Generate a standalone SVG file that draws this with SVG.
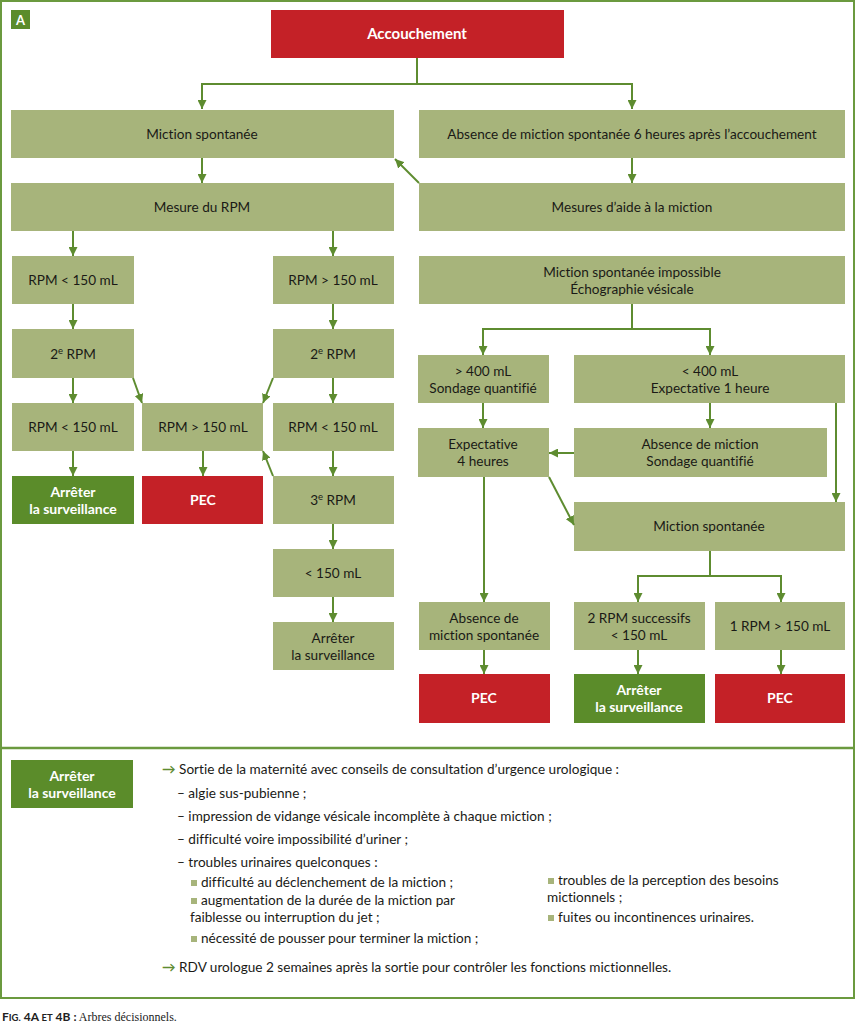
<svg xmlns="http://www.w3.org/2000/svg" width="856" height="1024" viewBox="0 0 856 1024">
<defs>
<marker id="ah" viewBox="0 0 10 10" refX="10" refY="5" markerWidth="9" markerHeight="9" markerUnits="userSpaceOnUse" orient="auto">
<path d="M0,0 L10,5 L0,10 z" fill="#5e8c30"/>
</marker>
</defs>
<style>
text{font-variant-ligatures:none}
.box{fill:#a7b47b}
.red{fill:#c42127}
.grn{fill:#5b8c2a}
.t{font-family:Lato,"Liberation Sans",sans-serif;font-size:13.6px;fill:#1a1a16;text-anchor:middle}
.w{font-family:Lato,"Liberation Sans",sans-serif;font-size:14px;font-weight:bold;fill:#ffffff;text-anchor:middle}
.c{fill:none;stroke:#5e8c30;stroke-width:2}
.l{font-family:Lato,"Liberation Sans",sans-serif;font-size:13.6px;fill:#1a1a16}
.ar{fill:#5e8c30;font-weight:bold}
.sq{fill:#a7b47b}
.sup{font-size:9.5px}
</style>
<rect x="1" y="1" width="853" height="997" fill="#ffffff" stroke="#6b9a3f" stroke-width="2"/>
<line x1="1" y1="748" x2="854" y2="748" stroke="#6b9a3f" stroke-width="2.5"/>

<g id="badgeA"><rect x="11" y="10" width="19" height="19" class="grn"/><text x="20.5" y="24.5" class="w" style="font-size:13px">A</text></g>

<g id="accouchement"><rect x="271" y="10" width="293" height="48" class="red"/><text x="417" y="39" class="w" style="font-size:15px">Accouchement</text></g>

<g id="miction1"><rect x="11" y="110" width="383" height="48" class="box"/><text x="202" y="139" class="t">Miction spontanée</text></g>
<g id="absence6h"><rect x="419" y="110" width="426" height="48" class="box"/><text x="632" y="139" class="t">Absence de miction spontanée 6 heures après l’accouchement</text></g>
<g id="mesureRPM"><rect x="11" y="183" width="383" height="48" class="box"/><text x="202" y="212" class="t">Mesure du RPM</text></g>
<g id="aide"><rect x="419" y="183" width="426" height="48" class="box"/><text x="632" y="212" class="t">Mesures d’aide à la miction</text></g>

<g id="l1"><rect x="12" y="256" width="122" height="48" class="box"/><text x="73" y="285" class="t">RPM &lt; 150 mL</text></g>
<g id="l2"><rect x="12" y="329" width="122" height="49" class="box"/><text x="73" y="359" class="t">2<tspan class="sup" dy="-5">e</tspan><tspan dy="5"> RPM</tspan></text></g>
<g id="l3"><rect x="12" y="403" width="122" height="48" class="box"/><text x="73" y="432" class="t">RPM &lt; 150 mL</text></g>
<g id="l4"><rect x="12" y="476" width="122" height="48" class="grn"/><text x="73" y="497" class="w">Arrêter</text><text x="73" y="514" class="w">la surveillance</text></g>

<g id="m3"><rect x="142" y="403" width="121" height="48" class="box"/><text x="203" y="432" class="t">RPM &gt; 150 mL</text></g>
<g id="m4"><rect x="142" y="476" width="121" height="48" class="red"/><text x="203" y="505" class="w">PEC</text></g>

<g id="r1"><rect x="273" y="256" width="121" height="48" class="box"/><text x="333" y="285" class="t">RPM &gt; 150 mL</text></g>
<g id="r2"><rect x="273" y="329" width="121" height="49" class="box"/><text x="333" y="359" class="t">2<tspan class="sup" dy="-5">e</tspan><tspan dy="5"> RPM</tspan></text></g>
<g id="r3"><rect x="273" y="403" width="121" height="48" class="box"/><text x="333" y="432" class="t">RPM &lt; 150 mL</text></g>
<g id="r4"><rect x="273" y="476" width="121" height="48" class="box"/><text x="333" y="505" class="t">3<tspan class="sup" dy="-5">e</tspan><tspan dy="5"> RPM</tspan></text></g>
<g id="r5"><rect x="273" y="549" width="121" height="48" class="box"/><text x="333" y="578" class="t">&lt; 150 mL</text></g>
<g id="r6"><rect x="273" y="622" width="121" height="48" class="box"/><text x="333" y="643" class="t">Arrêter</text><text x="333" y="660" class="t">la surveillance</text></g>

<g id="echo"><rect x="419" y="256" width="426" height="48" class="box"/><text x="632" y="277" class="t">Miction spontanée impossible</text><text x="632" y="294" class="t">Échographie vésicale</text></g>
<g id="gt400"><rect x="418" y="355" width="131" height="48" class="box"/><text x="483" y="376" class="t">&gt; 400 mL</text><text x="483" y="393" class="t">Sondage quantifié</text></g>
<g id="lt400"><rect x="574" y="355" width="271" height="48" class="box"/><text x="710" y="376" class="t">&lt; 400 mL</text><text x="710" y="393" class="t">Expectative 1 heure</text></g>
<g id="exp4"><rect x="418" y="428" width="131" height="49" class="box"/><text x="483" y="449" class="t">Expectative</text><text x="483" y="466" class="t">4 heures</text></g>
<g id="absSond"><rect x="574" y="428" width="253" height="49" class="box"/><text x="700" y="449" class="t">Absence de miction</text><text x="700" y="466" class="t">Sondage quantifié</text></g>
<g id="miction2"><rect x="574" y="502" width="271" height="49" class="box"/><text x="709" y="531" class="t">Miction spontanée</text></g>
<g id="absSpont"><rect x="419" y="602" width="131" height="48" class="box"/><text x="484" y="623" class="t">Absence de</text><text x="484" y="640" class="t">miction spontanée</text></g>
<g id="rpm2"><rect x="574" y="602" width="131" height="48" class="box"/><text x="639" y="623" class="t">2 RPM successifs</text><text x="639" y="640" class="t">&lt; 150 mL</text></g>
<g id="rpm1"><rect x="715" y="602" width="130" height="48" class="box"/><text x="780" y="631" class="t">1 RPM &gt; 150 mL</text></g>
<g id="pecA"><rect x="419" y="674" width="131" height="49" class="red"/><text x="484" y="703" class="w">PEC</text></g>
<g id="stopB"><rect x="574" y="674" width="131" height="49" class="grn"/><text x="639" y="695" class="w">Arrêter</text><text x="639" y="712" class="w">la surveillance</text></g>
<g id="pecB"><rect x="715" y="674" width="130" height="49" class="red"/><text x="780" y="703" class="w">PEC</text></g>

<g id="connectors">
<path class="c" d="M417,58 V84 H202 V109" marker-end="url(#ah)"/>
<path class="c" d="M417,84 H632 V109" marker-end="url(#ah)"/>
<path class="c" d="M202,158 V183" marker-end="url(#ah)"/>
<path class="c" d="M632,158 V183" marker-end="url(#ah)"/>
<path class="c" d="M419,183 L395,159" marker-end="url(#ah)"/>
<path class="c" d="M73,231 V256" marker-end="url(#ah)"/>
<path class="c" d="M333,231 V256" marker-end="url(#ah)"/>
<path class="c" d="M73,304 V329" marker-end="url(#ah)"/>
<path class="c" d="M73,378 V403" marker-end="url(#ah)"/>
<path class="c" d="M73,451 V476" marker-end="url(#ah)"/>
<path class="c" d="M333,304 V329" marker-end="url(#ah)"/>
<path class="c" d="M333,378 V403" marker-end="url(#ah)"/>
<path class="c" d="M333,451 V476" marker-end="url(#ah)"/>
<path class="c" d="M333,524 V549" marker-end="url(#ah)"/>
<path class="c" d="M333,597 V622" marker-end="url(#ah)"/>
<path class="c" d="M203,451 V476" marker-end="url(#ah)"/>
<path class="c" d="M133,378 L142,403" marker-end="url(#ah)"/>
<path class="c" d="M273,378 L263,403" marker-end="url(#ah)"/>
<path class="c" d="M273,476 L263,451" marker-end="url(#ah)"/>
<path class="c" d="M632,304 V329 H483 V355" marker-end="url(#ah)"/>
<path class="c" d="M632,329 H710 V355" marker-end="url(#ah)"/>
<path class="c" d="M483,403 V428" marker-end="url(#ah)"/>
<path class="c" d="M710,403 V428" marker-end="url(#ah)"/>
<path class="c" d="M574,453 H549" marker-end="url(#ah)"/>
<path class="c" d="M836,403 V502" marker-end="url(#ah)"/>
<path class="c" d="M549,477 L574,525" marker-end="url(#ah)"/>
<path class="c" d="M484,477 V602" marker-end="url(#ah)"/>
<path class="c" d="M710,551 V576 H638 V602" marker-end="url(#ah)"/>
<path class="c" d="M710,576 H781 V602" marker-end="url(#ah)"/>
<path class="c" d="M484,650 V674" marker-end="url(#ah)"/>
<path class="c" d="M638,650 V674" marker-end="url(#ah)"/>
<path class="c" d="M781,650 V674" marker-end="url(#ah)"/>
</g>

<g id="legendBox"><rect x="11" y="760" width="122" height="48" class="grn"/><text x="72" y="781" class="w">Arrêter</text><text x="72" y="798" class="w">la surveillance</text></g>

<g id="legendText">
<text x="162" y="774" class="l"><tspan class="ar">→</tspan> Sortie de la maternité avec conseils de consultation d’urgence urologique :</text>
<text x="177" y="798" class="l">– algie sus-pubienne ;</text>
<text x="177" y="821" class="l">– impression de vidange vésicale incomplète à chaque miction ;</text>
<text x="177" y="844" class="l">– difficulté voire impossibilité d’uriner ;</text>
<text x="177" y="867" class="l">– troubles urinaires quelconques :</text>
<rect x="191" y="880" width="6" height="6" class="sq"/>
<text x="201" y="887" class="l">difficulté au déclenchement de la miction ;</text>
<rect x="191" y="898" width="6" height="6" class="sq"/>
<text x="201" y="905" class="l">augmentation de la durée de la miction par</text>
<text x="190" y="922" class="l">faiblesse ou interruption du jet ;</text>
<rect x="191" y="936" width="6" height="6" class="sq"/>
<text x="201" y="943" class="l">nécessité de pousser pour terminer la miction ;</text>
<rect x="548" y="878" width="6" height="6" class="sq"/>
<text x="558" y="885" class="l">troubles de la perception des besoins</text>
<text x="547" y="902" class="l">mictionnels ;</text>
<rect x="548" y="915" width="6" height="6" class="sq"/>
<text x="558" y="922" class="l">fuites ou incontinences urinaires.</text>
<text x="162" y="972" class="l"><tspan class="ar">→</tspan> RDV urologue 2 semaines après la sortie pour contrôler les fonctions mictionnelles.</text>
</g>

<text x="2" y="1021" style="font-family:Lato,'Liberation Sans',sans-serif;font-size:12px;font-weight:bold;fill:#222">F<tspan font-size="9.5">IG.</tspan> 4A <tspan font-size="9.5">ET</tspan> 4B :<tspan style="font-family:'Liberation Serif',serif;font-weight:normal;font-size:12px"> Arbres décisionnels.</tspan></text>
</svg>
